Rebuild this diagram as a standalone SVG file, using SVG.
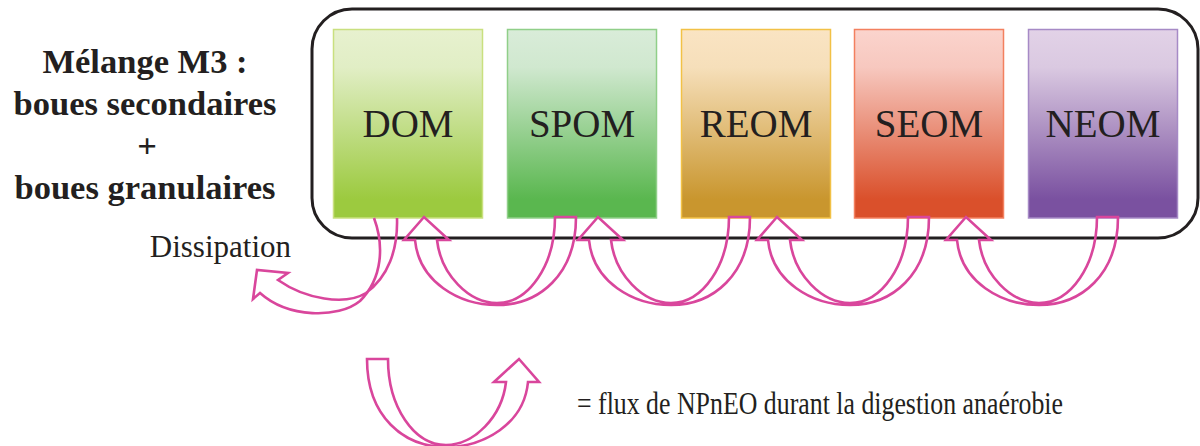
<svg xmlns="http://www.w3.org/2000/svg" width="1200" height="446" viewBox="0 0 1200 446">
<style>
.lbl{font-family:"Liberation Serif","Times New Roman",serif;fill:#231f20}
.box{font-size:39px;text-anchor:middle}
.title{font-size:34.5px;font-weight:bold;text-anchor:middle}
.arr{fill:none;stroke:#d9469c;stroke-width:2.6;stroke-linejoin:miter}
</style>
<defs>
<linearGradient id="gDOM" x1="0" y1="0" x2="0" y2="1"><stop offset="0" stop-color="#e7f1cf"/><stop offset="0.2" stop-color="#e1eec5"/><stop offset="0.9" stop-color="#9cca3f"/><stop offset="1" stop-color="#9cca3f"/></linearGradient>
<linearGradient id="gSPOM" x1="0" y1="0" x2="0" y2="1"><stop offset="0" stop-color="#d9ecd9"/><stop offset="0.2" stop-color="#d0e8cf"/><stop offset="0.9" stop-color="#5ab74f"/><stop offset="1" stop-color="#5ab74f"/></linearGradient>
<linearGradient id="gREOM" x1="0" y1="0" x2="0" y2="1"><stop offset="0" stop-color="#fae4c3"/><stop offset="0.2" stop-color="#f6dfba"/><stop offset="0.9" stop-color="#c9962e"/><stop offset="1" stop-color="#c9962e"/></linearGradient>
<linearGradient id="gSEOM" x1="0" y1="0" x2="0" y2="1"><stop offset="0" stop-color="#fbd4cd"/><stop offset="0.2" stop-color="#f7c8bf"/><stop offset="0.9" stop-color="#da502b"/><stop offset="1" stop-color="#da502b"/></linearGradient>
<linearGradient id="gNEOM" x1="0" y1="0" x2="0" y2="1"><stop offset="0" stop-color="#e2d2e7"/><stop offset="0.2" stop-color="#dac9e1"/><stop offset="0.9" stop-color="#7a51a0"/><stop offset="1" stop-color="#7a51a0"/></linearGradient>
<path id="flow" d="M 131,217 L 152,217 C 152,275 115,305 73,305 C 35,305 -5,282 -9,240 L -20,240 L 0,217 L 25,240 L 13,240 C 17,275 45,303 73,303 C 105,303 131,265 131,217 Z"/>
</defs>

<g id="title">
<text class="lbl title" x="145" y="73">Mélange M3 :</text>
<text class="lbl title" x="145" y="115">boues secondaires</text>
<text class="lbl title" x="147" y="157" font-weight="normal">+</text>
<text class="lbl title" x="145" y="199">boues granulaires</text>
</g>

<g id="container">
<rect x="312" y="9" width="886" height="229" rx="40" ry="40" fill="none" stroke="#231f20" stroke-width="3"/>
</g>

<g id="DOM">
<rect x="333.5" y="29.5" width="149" height="188.5" fill="url(#gDOM)" stroke="#c9e07f" stroke-width="1.5"/>
<text class="lbl box" x="408" y="137">DOM</text>
</g>
<g id="SPOM">
<rect x="507.5" y="29.5" width="149" height="188.5" fill="url(#gSPOM)" stroke="#90cf89" stroke-width="1.5"/>
<text class="lbl box" x="582" y="137">SPOM</text>
</g>
<g id="REOM">
<rect x="681.5" y="29.5" width="149" height="188.5" fill="url(#gREOM)" stroke="#f2c146" stroke-width="1.5"/>
<text class="lbl box" x="756" y="137">REOM</text>
</g>
<g id="SEOM">
<rect x="854.5" y="29.5" width="149" height="188.5" fill="url(#gSEOM)" stroke="#f3805f" stroke-width="1.5"/>
<text class="lbl box" x="929" y="137">SEOM</text>
</g>
<g id="NEOM">
<rect x="1028.5" y="29.5" width="149" height="188.5" fill="url(#gNEOM)" stroke="#a68ac6" stroke-width="1.5"/>
<text class="lbl box" x="1103" y="137">NEOM</text>
</g>

<g id="connectors">
<use href="#flow" class="arr" transform="translate(424,0)"/>
<use href="#flow" class="arr" transform="translate(598,0)"/>
<use href="#flow" class="arr" transform="translate(777,0)"/>
<use href="#flow" class="arr" transform="translate(966,0)"/>
<path class="arr" d="M 374,218 C 384,245 383,278 360,301 C 338,319 288,318 260,293 L 253,299 L 257,270 L 288,273 L 278,280 C 305,299 345,306 366,293 C 388,277 398,250 397,218"/>
</g>

<g id="dissipation">
<text class="lbl" x="291" y="257" font-size="31" text-anchor="end">Dissipation</text>
</g>

<g id="legend">
<use href="#flow" class="arr" transform="translate(519,142) scale(-1,1)"/>
<text class="lbl" x="577" y="414" font-size="31" textLength="486" lengthAdjust="spacingAndGlyphs">= flux de NPnEO durant la digestion anaérobie</text>
</g>
</svg>
